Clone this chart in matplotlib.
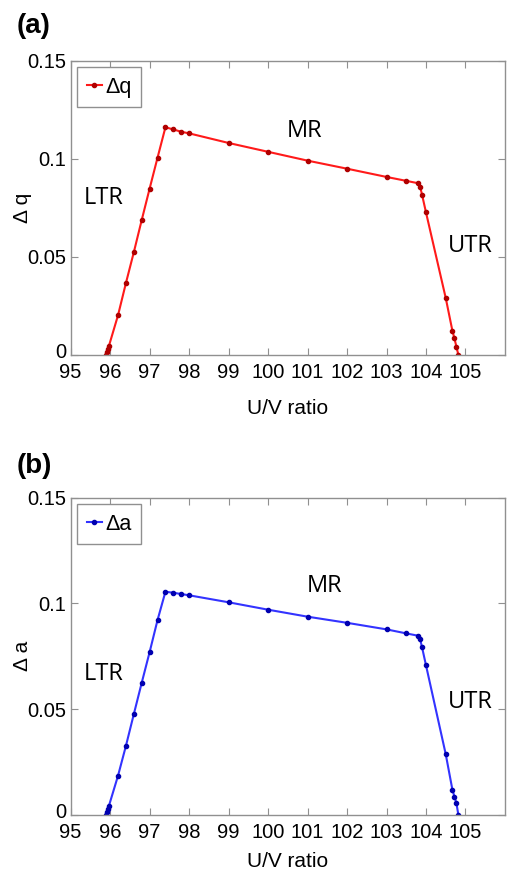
import matplotlib
matplotlib.use("Agg")
import matplotlib.pyplot as plt
from matplotlib.transforms import ScaledTranslation

# U/V ratio values (same sweep for both panels)
uv = [95.90, 95.92, 95.94, 95.97, 96.2, 96.4, 96.6, 96.8, 97.0, 97.2, 97.4,
      97.6, 97.8, 98.0, 99.0, 100.0, 101.0, 102.0, 103.0, 103.5, 103.8,
      103.85, 103.9, 104.0, 104.5, 104.67, 104.72, 104.77, 104.82]

dq = [0.0, 0.0015, 0.003, 0.0047, 0.0203, 0.0367, 0.0524, 0.0688, 0.0848,
      0.1005, 0.116, 0.1149, 0.1137, 0.1129, 0.108, 0.1035, 0.099, 0.0949,
      0.0907, 0.0887, 0.0875, 0.0858, 0.0816, 0.0726, 0.029, 0.0122, 0.0085,
      0.0042, 0.0]

da = [0.0, 0.0015, 0.003, 0.0044, 0.0186, 0.0327, 0.0477, 0.0625, 0.077,
      0.0921, 0.1055, 0.105, 0.1044, 0.1038, 0.1005, 0.097, 0.0937, 0.0908,
      0.0877, 0.0858, 0.0847, 0.0831, 0.0792, 0.0707, 0.0287, 0.0118, 0.0087,
      0.0056, 0.0]

xticks = list(range(95, 106))
yticks = [0, 0.05, 0.1, 0.15]
ytick_labels = ["0", "0.05", "0.1", "0.15"]

regions_a = [("LTR", 95.84, 0.080), ("MR", 100.92, 0.1142), ("UTR", 105.13, 0.0557)]
regions_b = [("LTR", 95.84, 0.0666), ("MR", 101.42, 0.108), ("UTR", 105.13, 0.0536)]

plt.rcParams["font.family"] = ["Liberation Sans", "DejaVu Sans"]

fig = plt.figure(figsize=(5.07, 8.77), dpi=100)
ax1 = fig.add_axes([0.1394, 0.5952, 0.8566, 0.3358])
ax2 = fig.add_axes([0.1394, 0.0707, 0.8566, 0.3620])

panels = [
    (ax1, dq, "#ff1a1a", "#b00000", "\u0394q", "\u0394 q", regions_a, 12),
    (ax2, da, "#3333ff", "#0000b0", "\u0394a", "\u0394 a", regions_b, 7),
]

for ax, ys, lc, mc, lab, ylab, regions, xlpad in panels:
    ax.plot(uv, ys, "-", color=lc, lw=1.5, marker="o", ms=3.0,
            mfc=mc, mec=mc, label=lab)
    ax.set_xlim(95, 106)
    ax.set_ylim(0, 0.15)
    ax.set_xticks(xticks)
    ax.set_yticks(yticks)
    ax.set_yticklabels(ytick_labels)
    ax.tick_params(direction="in", length=5, width=0.8, color="#909090",
                   labelsize=14.5, top=True, right=True)
    ax.tick_params(axis="x", pad=6)
    ax.tick_params(axis="y", pad=3)
    # lift the "0" a little so it sits just above the "95"
    zero = ax.get_yticklabels()[0]
    zero.set_transform(zero.get_transform() +
                       ScaledTranslation(0, 3 / 72, fig.dpi_scale_trans))
    for s in ax.spines.values():
        s.set_color("#909090")
        s.set_linewidth(1.0)
    ax.set_xlabel("U/V ratio", fontsize=15, labelpad=xlpad)
    ax.set_ylabel(ylab, fontsize=15)
    ax.yaxis.set_label_coords(-0.088, 0.5)
    for name, x, y in regions:
        ax.text(x, y, name, fontsize=17, family=["Open Sans", "DejaVu Sans"],
                ha="center", va="center")
    leg = ax.legend(loc="upper left", fontsize=15.5, handlelength=0.7,
                    handletextpad=0.15, borderpad=0.45, borderaxespad=0.3,
                    fancybox=False, framealpha=1)
    leg.get_frame().set_edgecolor("#909090")
    leg.get_frame().set_linewidth(1.0)

fig.text(0.032, 1 - 26 / 877, "(a)", fontsize=20, fontweight="bold", va="center")
fig.text(0.032, 1 - 466 / 877, "(b)", fontsize=20, fontweight="bold", va="center")

fig.savefig("out.png", dpi=100)
